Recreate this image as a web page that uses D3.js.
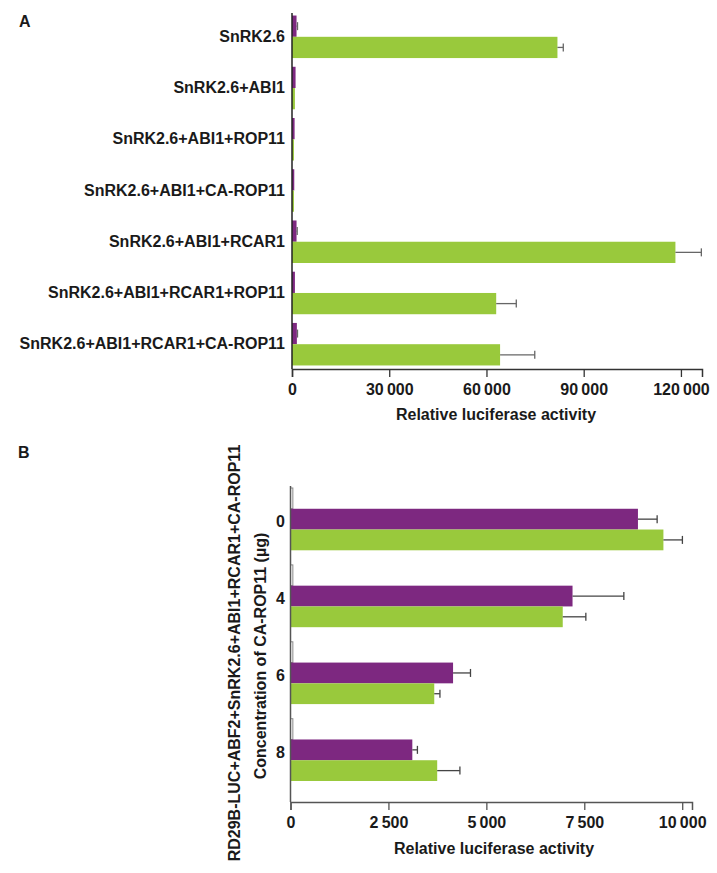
<!DOCTYPE html>
<html><head><meta charset="utf-8">
<script src="https://cdn.jsdelivr.net/npm/d3@7"></script>
<style>
body{margin:0;background:#fff;}
text{font-family:"Liberation Sans",Arial,Helvetica,sans-serif;font-weight:bold;fill:#1a1a1a;}
</style></head>
<body>
<svg id="chart" width="717" height="873"></svg>
<script>
// Panel A data
const catsA = ["SnRK2.6","SnRK2.6+ABI1","SnRK2.6+ABI1+ROP11","SnRK2.6+ABI1+CA-ROP11","SnRK2.6+ABI1+RCAR1","SnRK2.6+ABI1+RCAR1+ROP11","SnRK2.6+ABI1+RCAR1+CA-ROP11"];
const purpleA = [1400, 1100, 800, 700, 1400, 900, 1500];
const purpleAErr = [300, 0, 0, 0, 200, 0, 200];
const greenA = [81900, 900, 600, 600, 118300, 63000, 64200];
const greenAErr = [1800, 0, 0, 0, 8000, 6200, 10700];
const ticksA = [0, 30000, 60000, 90000, 120000];

// Panel B data
const catsB = ["0","4","6","8"];
const whiteB = [60, 60, 60, 60];
const purpleB = [8870, 7200, 4150, 3110];
const purpleBErr = [490, 1310, 445, 130];
const greenB = [9520, 6950, 3670, 3745];
const greenBErr = [485, 590, 145, 580];
const ticksB = [0, 2500, 5000, 7500, 10000];

const PURPLE = "#7d2880", GREEN = "#99c93c";
const svg = d3.select("#chart");
const fmt = v => v === 0 ? "0" : d3.format(",")(v).replace(/,/g, "\u2009");

// ---------- Panel A ----------
const xA = d3.scaleLinear().domain([0, 126500]).range([292, 702]);
const yA = d3.scaleBand().domain(catsA).range([14, 367]).paddingInner(0.17).paddingOuter(0.03);
const subA = d3.scaleBand().domain(["p","g"]).range([0, yA.bandwidth()]);
const gA = svg.append("g");

gA.append("text").attr("x", 19).attr("y", 27).style("font-size", "16px").text("A");

catsA.forEach((c, i) => {
  const y0 = yA(c);
  [["p", purpleA[i], purpleAErr[i], PURPLE], ["g", greenA[i], greenAErr[i], GREEN]].forEach(([k, v, e, col]) => {
    const yy = y0 + subA(k);
    gA.append("rect").attr("x", xA(0)).attr("y", yy).attr("width", xA(v) - xA(0)).attr("height", subA.bandwidth()).attr("fill", col);
    if (e > 0) {
      const cy = yy + subA.bandwidth() / 2;
      gA.append("line").attr("x1", xA(v)).attr("x2", xA(v + e)).attr("y1", cy).attr("y2", cy).attr("stroke", "#666").attr("stroke-width", 1.3);
      gA.append("line").attr("x1", xA(v + e)).attr("x2", xA(v + e)).attr("y1", cy - 4).attr("y2", cy + 4).attr("stroke", "#666").attr("stroke-width", 1.3);
    }
  });
  gA.append("text").attr("x", 285).attr("y", y0 + yA.bandwidth() / 2 + 1).attr("text-anchor", "end")
    .attr("dominant-baseline", "middle").style("font-size", "16px").text(c);
});

// axes A
gA.append("line").attr("x1", xA(0)).attr("x2", xA(0)).attr("y1", 13).attr("y2", 369).attr("stroke", "#222").attr("stroke-width", 1.5);
const axA = gA.append("g").attr("transform", "translate(0,369)")
  .call(d3.axisBottom(xA).tickValues(ticksA).tickFormat(fmt).tickSize(8).tickPadding(7));
axA.select(".domain").attr("stroke", "#333").attr("stroke-width", 1.5);
axA.selectAll(".tick line").attr("stroke", "#333").attr("stroke-width", 1.3);
axA.selectAll("text").style("font-size", "16px").style("font-family", "Liberation Sans, Arial, sans-serif").attr("fill", "#1a1a1a");
gA.append("text").attr("x", 496).attr("y", 420).attr("text-anchor", "middle").style("font-size", "16px").text("Relative luciferase activity");

// ---------- Panel B ----------
const xB = d3.scaleLinear().domain([0, 10250]).range([290.5, 692]);
const yB = d3.scaleBand().domain(catsB).range([488, 781]).paddingInner(0.19).paddingOuter(0);
const subB = d3.scaleBand().domain(["w","p","g"]).range([0, yB.bandwidth()]);
const gB = svg.append("g");

gB.append("text").attr("x", 18).attr("y", 458).style("font-size", "16px").text("B");

catsB.forEach((c, i) => {
  const y0 = yB(c);
  gB.append("rect").attr("x", xB(0)).attr("y", y0 + subB("w")).attr("width", xB(whiteB[i]) - xB(0)).attr("height", subB.bandwidth())
    .attr("fill", "#fff").attr("stroke", "#888").attr("stroke-width", 1);
  [["p", purpleB[i], purpleBErr[i], PURPLE], ["g", greenB[i], greenBErr[i], GREEN]].forEach(([k, v, e, col]) => {
    const yy = y0 + subB(k);
    gB.append("rect").attr("x", xB(0)).attr("y", yy).attr("width", xB(v) - xB(0)).attr("height", subB.bandwidth()).attr("fill", col);
    const cy = yy + subB.bandwidth() / 2;
    gB.append("line").attr("x1", xB(v)).attr("x2", xB(v + e)).attr("y1", cy).attr("y2", cy).attr("stroke", "#444").attr("stroke-width", 1.3);
    gB.append("line").attr("x1", xB(v + e)).attr("x2", xB(v + e)).attr("y1", cy - 4).attr("y2", cy + 4).attr("stroke", "#444").attr("stroke-width", 1.3);
  });
  gB.append("text").attr("x", 285).attr("y", y0 + yB.bandwidth() / 2 + 4).attr("text-anchor", "end")
    .attr("dominant-baseline", "middle").style("font-size", "16px").text(c);
});

gB.append("line").attr("x1", xB(0)).attr("x2", xB(0)).attr("y1", 486).attr("y2", 802).attr("stroke", "#555").attr("stroke-width", 1.5);
const axB = gB.append("g").attr("transform", "translate(0,802)")
  .call(d3.axisBottom(xB).tickValues(ticksB).tickFormat(fmt).tickSize(8).tickPadding(7));
axB.select(".domain").attr("stroke", "#555").attr("stroke-width", 1.5);
axB.selectAll(".tick line").attr("stroke", "#555").attr("stroke-width", 1.3);
axB.selectAll("text").style("font-size", "16px").style("font-family", "Liberation Sans, Arial, sans-serif").attr("fill", "#1a1a1a");
gB.append("text").attr("x", 494).attr("y", 854).attr("text-anchor", "middle").style("font-size", "16px").text("Relative luciferase activity");

gB.append("text").attr("transform", "translate(240,653) rotate(-90)").attr("text-anchor", "middle").style("font-size", "16px")
  .text("RD29B-LUC+ABF2+SnRK2.6+ABI1+RCAR1+CA-ROP11");
gB.append("text").attr("transform", "translate(266,656) rotate(-90)").attr("text-anchor", "middle").style("font-size", "16px")
  .text("Concentration of CA-ROP11 (\u00b5g)");
</script>
</body></html>
